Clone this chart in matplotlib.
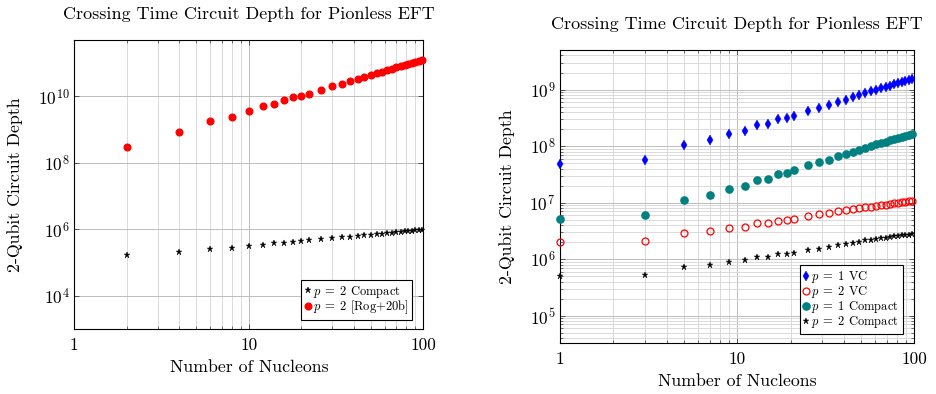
import matplotlib
matplotlib.use("Agg")
import matplotlib.pyplot as plt
from matplotlib.ticker import FixedLocator, FixedFormatter, LogLocator, LogFormatterSciNotation, NullFormatter

plt.rcParams['font.family'] = ['cmr10', 'DejaVu Serif']
plt.rcParams['mathtext.fontset'] = 'cm'
plt.rcParams['axes.formatter.use_mathtext'] = True

# ---- data: left panel ----
title = "Crossing Time Circuit Depth for Pionless EFT"
left_x = [2, 4, 6, 8, 10, 12, 14, 16, 18, 20, 22, 26, 30, 34, 38, 42, 46, 50, 54, 58,
          62, 66, 70, 74, 78, 82, 86, 90, 94, 98]
left_compact = [1.74e5, 2.04e5, 2.57e5, 2.75e5, 3.24e5, 3.31e5, 3.80e5, 3.89e5, 4.17e5, 4.37e5,
                4.79e5, 5.13e5, 5.37e5, 5.75e5, 6.10e5, 6.31e5, 6.61e5, 6.92e5, 7.24e5, 7.50e5,
                7.76e5, 8.04e5, 8.32e5, 8.51e5, 8.81e5, 9.02e5, 9.23e5, 9.44e5, 9.66e5, 9.89e5]
left_rog = [2.95e8, 8.3e8, 1.78e9, 2.34e9, 3.63e9, 5.13e9, 5.75e9, 7.59e9, 9.33e9, 1.02e10,
            1.20e10, 1.55e10, 2.0e10, 2.4e10, 2.82e10, 3.31e10, 3.72e10, 4.27e10, 4.9e10, 5.37e10,
            6.03e10, 6.76e10, 7.41e10, 8.13e10, 8.91e10, 9.55e10, 1.02e11, 1.10e11, 1.17e11, 1.26e11]
left_labels = [r"$p\;=\;2$ Compact", r"$p\;=\;2$ [Rog+20b]"]

# ---- data: right panel ----
right_x = [1, 3, 5, 7, 9, 11, 13, 15, 17, 19, 21, 25, 29, 33, 37, 41, 45, 49, 53, 57,
           61, 65, 69, 73, 77, 81, 85, 89, 93, 97]
p1_vc = [4.79e7, 5.62e7, 1.05e8, 1.29e8, 1.62e8, 1.86e8, 2.34e8, 2.45e8, 2.95e8, 3.16e8,
         3.47e8, 4.17e8, 4.79e8, 5.37e8, 6.03e8, 6.61e8, 7.24e8, 7.94e8, 8.61e8, 9.33e8,
         1.0e9, 1.05e9, 1.11e9, 1.17e9, 1.24e9, 1.29e9, 1.35e9, 1.41e9, 1.46e9, 1.51e9]
p2_vc = [2.0e6, 2.09e6, 2.88e6, 3.16e6, 3.55e6, 3.72e6, 4.27e6, 4.27e6, 4.79e6, 4.9e6,
         5.13e6, 5.69e6, 6.17e6, 6.52e6, 6.98e6, 7.28e6, 7.59e6, 7.89e6, 8.22e6, 8.43e6,
         8.79e6, 8.91e6, 9.12e6, 9.4e6, 9.66e6, 9.91e6, 1.007e7, 1.033e7, 1.047e7, 1.062e7]
p1_compact = [5.13e6, 6.03e6, 1.12e7, 1.38e7, 1.74e7, 2.0e7, 2.51e7, 2.6e7, 3.16e7, 3.39e7,
              3.76e7, 4.57e7, 5.13e7, 5.75e7, 6.61e7, 7.24e7, 7.94e7, 8.51e7, 9.23e7, 1.0e8,
              1.07e8, 1.12e8, 1.19e8, 1.26e8, 1.33e8, 1.38e8, 1.45e8, 1.51e8, 1.57e8, 1.62e8]
p2_compact = [5.01e5, 5.25e5, 7.16e5, 7.85e5, 8.91e5, 9.55e5, 1.07e6, 1.10e6, 1.22e6, 1.24e6,
              1.29e6, 1.45e6, 1.51e6, 1.62e6, 1.75e6, 1.85e6, 1.95e6, 2.04e6, 2.14e6, 2.19e6,
              2.29e6, 2.34e6, 2.40e6, 2.45e6, 2.51e6, 2.57e6, 2.63e6, 2.66e6, 2.69e6, 2.75e6]
right_labels = [r"$p\;=\;1$ VC", r"$p\;=\;2$ VC", r"$p\;=\;1$ Compact", r"$p\;=\;2$ Compact"]

x_ticks = [1, 10, 100]
x_tick_labels = ["1", "10", "100"]
xlabel = "Number of Nucleons"
ylabel = "2-Qubit Circuit Depth"

fig = plt.figure(figsize=(9.37, 3.94), dpi=100)
axL = fig.add_axes([0.0793, 0.1642, 0.3725, 0.7343])
axR = fig.add_axes([0.5977, 0.1287, 0.3781, 0.7445])

MAJ = '#bdbdbd'
MIN = '#d4d4d4'
FS = 12.8

def style_axis(ax, yminor_grid):
    ax.set_xscale('log')
    ax.set_yscale('log')
    ax.set_xlim(1, 100)
    ax.xaxis.set_major_locator(FixedLocator(x_ticks))
    ax.xaxis.set_major_formatter(FixedFormatter(x_tick_labels))
    ax.xaxis.set_minor_locator(LogLocator(base=10, subs=range(2, 10)))
    ax.xaxis.set_minor_formatter(NullFormatter())
    ax.grid(True, which='major', axis='both', color=MAJ, lw=0.7, zorder=0)
    ax.grid(True, which='minor', axis='x', color=MIN, lw=0.6, zorder=0)
    if yminor_grid:
        ax.grid(True, which='minor', axis='y', color=MIN, lw=0.6, zorder=0)
    ax.set_axisbelow(True)
    ax.tick_params(which='both', direction='in', top=True, right=True, color='#404040', labelsize=12.5)
    ax.tick_params(which='major', length=3.5, width=0.6)
    ax.tick_params(which='minor', length=2, width=0.5)
    ax.tick_params(axis='x', pad=6)
    for s in ax.spines.values():
        s.set_linewidth(0.8)
        s.set_color('black')
    ax.set_xlabel(xlabel, fontsize=FS)
    ax.set_ylabel(ylabel, fontsize=FS)
    ax.set_title(title, fontsize=13, pad=15)

def make_legend(ax, anchor):
    leg = ax.legend(loc='lower right', bbox_to_anchor=anchor, borderaxespad=0,
                    fontsize=9.0, frameon=True, fancybox=False, edgecolor='black',
                    handlelength=0.5, handletextpad=0.15, borderpad=0.3, labelspacing=-0.08,
                    framealpha=1)
    leg.get_frame().set_linewidth(0.8)
    return leg

# ---- left panel ----
style_axis(axL, False)
axL.set_ylim(1e3, 10**11.69)
axL.yaxis.set_major_locator(FixedLocator([1e4, 1e6, 1e8, 1e10]))
axL.yaxis.set_major_formatter(LogFormatterSciNotation())
axL.yaxis.set_minor_locator(FixedLocator([]))
axL.plot(left_x, left_compact, ls='none', marker='*', ms=4.5, color='black', mew=0.3,
         label=left_labels[0], clip_on=False, zorder=3)
axL.plot(left_x, left_rog, ls='none', marker='o', ms=4.8, color='#ff0000', mec='#ff0000',
         label=left_labels[1], clip_on=False, zorder=3)
make_legend(axL, (0.9676, 0.032))
axL.yaxis.set_label_coords(-0.148, 0.5)
axL.xaxis.set_label_coords(0.5, -0.106)

# ---- right panel ----
style_axis(axR, True)
axR.set_ylim(10**4.51, 10**9.70)
axR.yaxis.set_major_locator(LogLocator(base=10, numticks=20))
axR.yaxis.set_major_formatter(LogFormatterSciNotation())
axR.yaxis.set_minor_locator(LogLocator(base=10, subs=range(2, 10), numticks=50))
axR.yaxis.set_minor_formatter(NullFormatter())
axR.plot(right_x, p1_vc, ls='none', marker='d', ms=5.2, color='#0000ff', mew=0.3,
         label=right_labels[0], clip_on=False, zorder=3)
axR.plot(right_x, p2_vc, ls='none', marker='o', ms=5, mfc='none', mec='#ff0000', mew=0.9,
         label=right_labels[1], clip_on=False, zorder=3)
axR.plot(right_x, p1_compact, ls='none', marker='o', ms=5.2, color='#008080',
         label=right_labels[2], clip_on=False, zorder=3)
axR.plot(right_x, p2_compact, ls='none', marker='*', ms=4.5, color='black', mew=0.3,
         label=right_labels[3], clip_on=False, zorder=3)
make_legend(axR, (0.968, 0.0317))
axR.yaxis.set_label_coords(-0.128, 0.5)
axR.xaxis.set_label_coords(0.5, -0.105)

fig.savefig("out.png", dpi=100)
